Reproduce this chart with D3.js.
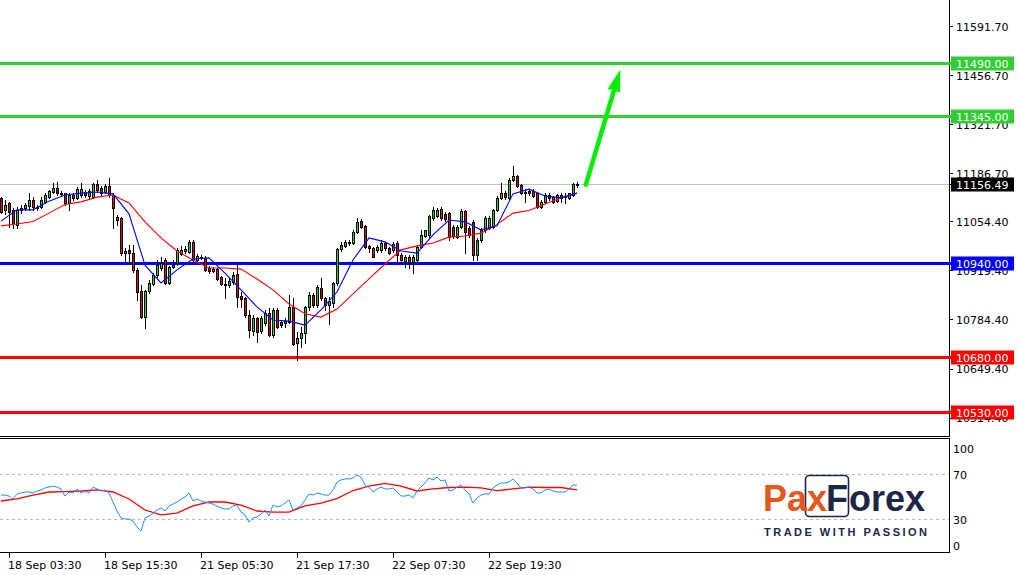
<!DOCTYPE html>
<html>
<head>
<meta charset="utf-8">
<script src="https://cdn.jsdelivr.net/npm/d3@7"></script>
<style>
  body { margin: 0; background: #fff; }
  svg { display: block; font-family: "DejaVu Sans", sans-serif; font-size: 11px; }
</style>
</head>
<body>
<div id="chart"></div>
<script>
// ---- data (M30 bars) ----
var barOpen = [
  11119,11086,11105,11086,11044,11086,11091,11097,11113,11094, 11094,11108,11121,11135,11146,11132,11132,11105,11127,11119,
  11127,11135,11124,11121,11157,11146,11135,11152,11127,11066, 11064,10967,10976,10967,10921,10863,10791,10863,10882,10907,
  10926,10948,10885,10929,10940,10965,10973,10970,10998,10948, 10954,10954,10926,10918,10923,10901,10882,10879,10888,10910,
  10849,10843,10797,10753,10789,10753,10775,10802,10742,10810, 10778,10775,10778,10819,10720,10734,10747,10819,10852,10824,
  10871,10843,10824,10830,10885,10978,10987,10995,10995,11025, 11055,11042,10987,10981,10976,10976,10995,10981,10976,10995,
  10962,10945,10956,10943,10948,10984,11014,11017,11064,11069, 11088,11075,11077,11039,11011,11039,11083,11036,11052,10962,
  11003,11030,11036,11039,11086,11119,11132,11119,11168,11179, 11154,11135,11138,11138,11132,11094,11108,11127,11121,11110,
  11127,11124,11119,11127,11156
];
var barHigh = [
  11121,11113,11108,11091,11094,11099,11105,11132,11121,11099, 11121,11132,11141,11160,11163,11138,11132,11132,11132,11149,
  11160,11141,11143,11160,11168,11152,11157,11174,11132,11072, 11066,10981,10989,10989,10926,10879,10866,10893,10912,10948,
  10956,10954,10932,10948,10981,10987,10987,11003,11003,10965, 10962,10959,10932,10929,10926,10904,10898,10898,10915,10934,
  10860,10846,10810,10797,10791,10794,10810,10816,10816,10816, 10783,10788,10852,10843,10750,10764,10821,10860,10857,10879,
  10898,10846,10846,10888,10981,10998,11003,11003,11030,11064, 11061,11044,10989,10984,10989,11003,10998,10984,10998,11000,
  10967,10962,10962,10962,10989,11030,11030,11072,11094,11091, 11094,11080,11080,11044,11044,11088,11086,11042,11058,11009,
  11036,11069,11069,11088,11124,11160,11138,11174,11207,11182, 11157,11143,11143,11143,11135,11113,11132,11132,11124,11130,
  11132,11132,11132,11160,11163
];
var barLow = [
  11077,11075,11039,11036,11036,11077,11086,11086,11086,11086, 11091,11105,11119,11132,11127,11124,11099,11086,11113,11116,
  11121,11121,11119,11119,11135,11127,11132,11121,11036,11044, 10962,10943,10940,10915,10838,10789,10761,10857,10879,10901,
  10921,10882,10882,10926,10934,10962,10967,10967,10943,10943, 10951,10918,10912,10915,10893,10879,10843,10874,10882,10819,
  10819,10791,10736,10742,10723,10747,10769,10739,10736,10761, 10764,10764,10775,10714,10673,10709,10720,10810,10819,10819,
  10838,10810,10772,10819,10879,10973,10984,10989,10992,11022, 11036,10981,10970,10956,10970,10970,10976,10965,10970,10943,
  10940,10929,10926,10912,10943,10981,11011,11011,11058,11066, 11058,11055,11003,11008,11008,11036,10967,11011,10948,10948,
  10998,11025,11033,11036,11083,11116,11116,11116,11165,11149, 11130,11108,11127,11121,11091,11091,11105,11113,11105,11108,
  11108,11105,11116,11124,11149
];
var barClose = [
  11080,11099,11080,11050,11086,11091,11099,11113,11094,11091, 11113,11127,11138,11146,11132,11130,11105,11127,11119,11143,
  11143,11127,11138,11157,11141,11132,11152,11127,11091,11058, 10967,10973,10967,10921,10860,10791,10863,10885,10907,10934,
  10940,10885,10929,10934,10976,10976,10978,10998,10948,10959, 10956,10921,10918,10923,10896,10882,10879,10890,10907,10846,
  10841,10797,10756,10789,10750,10789,10802,10742,10810,10764, 10769,10780,10819,10717,10734,10747,10819,10852,10824,10874,
  10843,10824,10835,10885,10978,10989,10998,10998,11025,11053, 11039,10984,10981,10956,10984,10995,10981,10967,10992,10962,
  10948,10956,10940,10956,10984,11017,11030,11069,11086,11086, 11064,11061,11011,11014,11039,11083,11025,11017,10962,11003,
  11030,11064,11064,11086,11119,11132,11121,11168,11179,11152, 11132,11132,11132,11124,11094,11108,11127,11119,11108,11127,
  11119,11121,11132,11157,11156.49
];

// moving averages, one value every 4 bars (bar 0, 4, 8 ... 144)
var maStep = 4;
var maFast = [
  11055,11086,11086,11110,11127,11132,11135,11130,11075,10934, 10885,10921,10951,10954,10912,10866,10819,10783,10780,10769,
  10811,10860,10948,11009,10998,10973,10967,11017,11058,11053, 11031,11042,11130,11143,11124,11119,11132
];
var maSlow = [
  11042,11047,11054,11077,11101,11108,11121,11127,11105,11053, 11009,10973,10948,10926,10926,10923,10896,10866,10827,10800,
  10791,10813,10855,10896,10937,10976,10987,10995,11011,11014, 11022,11046,11077,11084,11102,11119,11132
];

// oscillator (one value per bar) and its signal line (every 4 bars)
var rsiValues = [
  51.3,51.3,50.4,47.8,52.2,53.1,54.0,54.0,53.1,54.9, 55.8,57.6,58.4,59.3,58.4,56.7,50.4,54.0,53.1,56.7,
  53.1,54.9,53.1,58.4,56.7,54.9,55.8,53.1,45.1,37.1, 30.9,30.0,30.0,28.2,22.9,19.3,30.9,32.7,35.3,38.0,
  39.8,37.1,41.6,43.3,45.1,47.8,49.6,53.1,46.0,47.8, 46.0,45.1,44.2,43.3,41.6,39.8,38.9,38.9,41.6,42.4,
  36.2,33.6,27.3,30.9,31.8,34.4,38.0,32.7,42.4,40.7, 41.6,44.2,46.9,38.0,39.8,41.6,46.9,52.2,51.3,53.1,
  52.2,51.3,51.3,55.8,62.9,64.7,65.6,65.6,66.4,69.1, 67.3,60.2,58.4,54.0,56.7,58.4,56.7,56.7,57.6,54.0,
  50.4,50.4,51.3,48.7,54.9,58.4,62.0,66.4,64.7,67.3, 63.8,64.7,54.9,55.8,58.4,60.2,55.8,52.2,44.2,48.7,
  51.3,52.2,52.2,57.6,60.2,62.0,62.0,62.9,65.6,62.0, 57.6,57.6,58.4,56.7,53.1,53.1,55.8,56.7,54.9,54.0,
  54.0,54.0,56.7,60.2,60.2
];
var rsiSignal = [
  46.0,47.8,51.3,54.0,54.4,54.9,55.8,54.0,47.8,38.0, 33.6,35.3,41.6,45.1,45.1,42.4,37.1,36.2,36.2,41.6,
  44.2,48.2,55.3,59.3,61.6,59.3,54.9,56.7,58.0,58.4, 57.6,55.3,56.7,58.4,58.0,58.0,55.8
];

var priceTicks = [11591.70, 11456.70, 11321.70, 11186.70, 11054.40, 10919.40, 10784.40, 10649.40, 10514.40];
var rsiTicks = [100, 70, 30, 0];
var rsiLevels = [70, 30];
var timeTicks = [2, 26, 50, 74, 98, 122];
var timeLabels = ["18 Sep 03:30", "18 Sep 15:30", "21 Sep 05:30", "21 Sep 17:30", "22 Sep 07:30", "22 Sep 19:30"];

var levelValues = [11490, 11345, 10940, 10680, 10530];
var levelColors = ["#32cd32", "#32cd32", "#0000ff", "#ff0000", "#ff0000"];
var lastPrice = 11156.49;
var arrowFrom = [146.2, 11155];
var arrowTo = [154.8, 11472];

// ---- layout ----
var width = 1018, height = 575;
var axisX = 949;
var mainBottom = 436, subTop = 439, subBottom = 553;

var svg = d3.select("#chart").append("svg")
    .attr("width", width)
    .attr("height", height);

var x = d3.scaleLinear().domain([0, 237]).range([1, axisX]);
var y = d3.scaleLinear().domain([10463.9, 11663.3]).range([mainBottom, 0]);
var yr = d3.scaleLinear().domain([0, 100]).range([552.75, 440.25]);

/* ****** main panel ****** */
var main = svg.append("g");

// current price line
main.append("line")
    .attr("x1", 0).attr("x2", axisX)
    .attr("y1", Math.round(y(lastPrice)) + 0.5).attr("y2", Math.round(y(lastPrice)) + 0.5)
    .attr("stroke", "#c0c0c0");

// level lines
main.selectAll(".level").data(levelValues).enter()
    .append("line")
    .attr("x1", 0).attr("x2", axisX)
    .attr("y1", function (d) { return Math.round(y(d)) + 0.5; })
    .attr("y2", function (d) { return Math.round(y(d)) + 0.5; })
    .attr("stroke", function (d, i) { return levelColors[i]; })
    .attr("stroke-width", 3);

// candles
var bars = d3.range(barOpen.length);
var candle = main.selectAll(".candle").data(bars).enter().append("g");

candle.append("line")
    .attr("x1", function (i) { return Math.round(x(i)) + 0.5; })
    .attr("x2", function (i) { return Math.round(x(i)) + 0.5; })
    .attr("y1", function (i) { return Math.round(y(barHigh[i])); })
    .attr("y2", function (i) { return Math.round(y(barLow[i])) + 1; })
    .attr("stroke", "#000");

candle.append("rect")
    .attr("x", function (i) { return Math.round(x(i)) - 0.5; })
    .attr("width", 2)
    .attr("y", function (i) { return Math.round(y(Math.max(barOpen[i], barClose[i]))) + 0.5; })
    .attr("height", function (i) {
        return Math.max(1, Math.round(y(Math.min(barOpen[i], barClose[i]))) - Math.round(y(Math.max(barOpen[i], barClose[i]))));
    })
    .attr("fill", function (i) { return barClose[i] >= barOpen[i] ? "#2ec82e" : "#d01010"; })
    .attr("stroke", "#000")
    .attr("stroke-width", 1);

// moving averages
var maLine = d3.line()
    .x(function (d, k) { return x(k * maStep); })
    .y(function (d) { return y(d); });

main.append("path").datum(maSlow)
    .attr("d", maLine).attr("fill", "none")
    .attr("stroke", "#ff0000").attr("stroke-width", 1.1);
main.append("path").datum(maFast)
    .attr("d", maLine).attr("fill", "none")
    .attr("stroke", "#0000ff").attr("stroke-width", 1.1);

// forecast arrow
var ax1 = x(arrowFrom[0]), ay1 = y(arrowFrom[1]);
var ax2 = x(arrowTo[0]), ay2 = y(arrowTo[1]);
var len = Math.hypot(ax2 - ax1, ay2 - ay1);
var ux = (ax2 - ax1) / len, uy = (ay2 - ay1) / len;
var headLen = 22, headHalf = 6.5;
var bx = ax2 - ux * headLen, by = ay2 - uy * headLen;
main.append("line")
    .attr("x1", ax1).attr("y1", ay1)
    .attr("x2", bx + ux * 2).attr("y2", by + uy * 2)
    .attr("stroke", "#00ee00").attr("stroke-width", 4.5).attr("stroke-linecap", "round");
main.append("polygon")
    .attr("points", [
        [ax2, ay2],
        [bx - uy * headHalf, by + ux * headHalf],
        [bx + uy * headHalf, by - ux * headHalf]
    ].map(function (p) { return p.join(","); }).join(" "))
    .attr("fill", "#00ee00");

/* ****** oscillator panel ****** */
var sub = svg.append("g");

sub.selectAll(".lvl").data(rsiLevels).enter()
    .append("line")
    .attr("x1", 0).attr("x2", axisX)
    .attr("y1", function (d) { return Math.round(yr(d)) + 0.5; })
    .attr("y2", function (d) { return Math.round(yr(d)) + 0.5; })
    .attr("stroke", "#b8b8b8").attr("stroke-dasharray", "3,3");

// logo
var logo = sub.append("g");
logo.append("rect")
    .attr("x", 805.5).attr("y", 475.5).attr("width", 43).attr("height", 41).attr("rx", 4)
    .attr("fill", "none").attr("stroke", "#1b2747").attr("stroke-width", 1.6);
var logoText = logo.append("text")
    .attr("y", 511)
    .style("font-family", "'Liberation Sans', Arial, sans-serif")
    .style("font-weight", "bold")
    .style("font-size", "36px");
logoText.append("tspan").attr("x", 763).attr("fill", "#e4561c").text("Pa");
logoText.append("tspan").attr("x", 807).attr("fill", "#e4561c").text("x");
logoText.append("tspan").attr("x", 826).attr("fill", "#1b2747").text("F");
logoText.append("tspan").attr("x", 849).attr("fill", "#1b2747").text("orex");
logo.append("text")
    .attr("x", 764).attr("y", 535.5)
    .attr("textLength", 163).attr("lengthAdjust", "spacing")
    .style("font-family", "'Liberation Sans', Arial, sans-serif")
    .style("font-weight", "bold")
    .style("font-size", "11px")
    .attr("fill", "#1b2747")
    .text("TRADE WITH PASSION");

sub.append("path").datum(rsiSignal)
    .attr("d", d3.line()
        .x(function (d, k) { return x(k * maStep); })
        .y(function (d) { return yr(d); }))
    .attr("fill", "none").attr("stroke", "#ff0000").attr("stroke-width", 1.3);

sub.append("path").datum(rsiValues)
    .attr("d", d3.line()
        .x(function (d, i) { return x(i); })
        .y(function (d) { return yr(d); }))
    .attr("fill", "none").attr("stroke", "#1e90ff").attr("stroke-width", 1);

/* ****** frames ****** */
var frame = svg.append("g").attr("stroke", "#000").attr("stroke-width", 1);
frame.append("line").attr("x1", axisX + 0.5).attr("x2", axisX + 0.5).attr("y1", 0).attr("y2", mainBottom + 1);
frame.append("line").attr("x1", 0).attr("x2", axisX + 1).attr("y1", mainBottom + 0.5).attr("y2", mainBottom + 0.5);
frame.append("line").attr("x1", 0).attr("x2", axisX + 1).attr("y1", subTop - 0.5).attr("y2", subTop - 0.5);
frame.append("line").attr("x1", axisX + 0.5).attr("x2", axisX + 0.5).attr("y1", subTop - 1).attr("y2", subBottom);
frame.append("line").attr("x1", 0).attr("x2", axisX + 1).attr("y1", subBottom - 0.5).attr("y2", subBottom - 0.5);

/* ****** price axis ****** */
var pAxis = svg.append("g");
pAxis.selectAll(".tk").data(priceTicks).enter()
    .append("line")
    .attr("x1", axisX).attr("x2", axisX + 4)
    .attr("y1", function (d) { return Math.round(y(d)) + 0.5; })
    .attr("y2", function (d) { return Math.round(y(d)) + 0.5; })
    .attr("stroke", "#000");
pAxis.selectAll(".tl").data(priceTicks).enter()
    .append("text")
    .attr("x", 956)
    .attr("y", function (d) { return y(d) + 4.5; })
    .attr("fill", "#000")
    .text(function (d) { return d.toFixed(2); });

// level tags on the axis
var tags = levelValues.map(function (v, i) { return { v: v, c: levelColors[i] }; });
tags.push({ v: lastPrice, c: "#000" });
var tag = pAxis.selectAll(".tag").data(tags).enter().append("g");
tag.append("line")
    .attr("x1", axisX).attr("x2", axisX + 3)
    .attr("y1", function (d) { return Math.round(y(d.v)) + 0.5; })
    .attr("y2", function (d) { return Math.round(y(d.v)) + 0.5; })
    .attr("stroke", function (d) { return d.c; })
    .attr("stroke-width", function (d) { return d.c === "#000" ? 1 : 3; });
tag.append("rect")
    .attr("x", 951).attr("width", 63)
    .attr("y", function (d) { return Math.round(y(d.v)) - 6.5; })
    .attr("height", 14)
    .attr("fill", function (d) { return d.c; });
tag.append("text")
    .attr("x", 956)
    .attr("y", function (d) { return Math.round(y(d.v)) + 4.5; })
    .attr("fill", "#fff")
    .text(function (d) { return d.v.toFixed(2); });

/* ****** oscillator axis ****** */
svg.append("g").selectAll("text").data(rsiTicks).enter()
    .append("text")
    .attr("x", 953)
    .attr("y", function (d) { return Math.min(Math.max(yr(d), 448), 545) + 4.5; })
    .attr("fill", "#000")
    .text(function (d) { return d; });

/* ****** time axis ****** */
var tAxis = svg.append("g");
tAxis.selectAll("line").data(timeTicks).enter()
    .append("line")
    .attr("x1", function (d) { return Math.round(x(d)) + 0.5; })
    .attr("x2", function (d) { return Math.round(x(d)) + 0.5; })
    .attr("y1", subBottom).attr("y2", subBottom + 5)
    .attr("stroke", "#000");
tAxis.selectAll("text").data(timeTicks).enter()
    .append("text")
    .attr("x", function (d) { return x(d) - 1; })
    .attr("y", 569)
    .attr("fill", "#000")
    .text(function (d, i) { return timeLabels[i]; });
</script>
</body>
</html>
